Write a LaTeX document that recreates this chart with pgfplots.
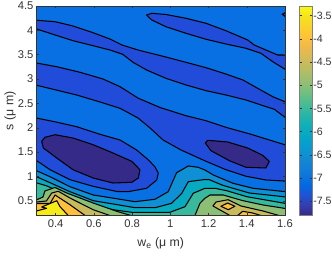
\documentclass[border=0pt]{standalone}
\usepackage{pgfplots}
\usepackage{fontspec}
\setmainfont{Liberation Sans}
\pgfplotsset{compat=1.18}
\definecolor{axgray}{gray}{0.2}
\definecolor{c0}{rgb}{0.2081,0.1663,0.5292}
\definecolor{c1}{rgb}{0.13,0.30,0.85}
\definecolor{c2}{rgb}{0.03,0.44,0.89}
\definecolor{c3}{rgb}{0.06,0.565,0.83}
\definecolor{c4}{rgb}{0.028,0.666,0.757}
\definecolor{c5}{rgb}{0.22,0.725,0.617}
\definecolor{c6}{rgb}{0.55,0.749,0.458}
\definecolor{c7}{rgb}{0.79,0.735,0.36}
\definecolor{c8}{rgb}{0.995,0.748,0.237}
\definecolor{c9}{rgb}{0.96,0.925,0.09}
\pgfplotsset{
  colormap={parulamap}{
    rgb=(0.2081,0.1663,0.5292) rgb=(0.2081,0.2386,0.6771) rgb=(0.1253,0.3242,0.8303)
    rgb=(0.0060,0.4086,0.8828) rgb=(0.0498,0.4586,0.8641) rgb=(0.0779,0.5040,0.8384)
    rgb=(0.0641,0.5570,0.8240) rgb=(0.0265,0.6137,0.8135) rgb=(0.0228,0.6535,0.7768)
    rgb=(0.0590,0.6838,0.7254) rgb=(0.1453,0.7098,0.6646) rgb=(0.2586,0.7317,0.5954)
    rgb=(0.3953,0.7459,0.5244) rgb=(0.5300,0.7491,0.4661) rgb=(0.6473,0.7456,0.4188)
    rgb=(0.7525,0.7384,0.3768) rgb=(0.8507,0.7299,0.3360) rgb=(0.9450,0.7261,0.2886)
    rgb=(0.9990,0.7653,0.2164) rgb=(0.9789,0.8271,0.1633) rgb=(0.9589,0.8949,0.1132)
    rgb=(0.9763,0.9831,0.0538)
  }
}
\begin{document}
\begin{tikzpicture}[x=1pt,y=1pt]
\useasboundingbox (0,0) rectangle (332,256);
\begin{axis}[
  at={(36.5pt,40.5pt)}, anchor=south west,
  scale only axis, width=248.5pt, height=209.5pt,
  xmin=0.3, xmax=1.6, ymin=0.2, ymax=4.5,
  xtick={0.4,0.6,...,1.61}, ytick={0.5,1,...,4.5},
  axis on top, clip=true,
  tick align=inside, major tick length=2.5pt,
  tick style={axgray,line width=0.5pt},
  axis line style={axgray,line width=0.6pt},
  axis background/.style={fill=c2},
  tick label style={font=\fontsize{11.2}{13}\selectfont,text=axgray},
  label style={font=\fontsize{12.3}{14}\selectfont,text=axgray},
  xticklabel style={yshift=-0.5pt},
  yticklabel style={xshift=0.5pt},
  xlabel style={yshift=-3pt},
  ylabel style={yshift=-5pt},
  /pgf/number format/assume math mode=true,
  xlabel={w\textsubscript{e} (μ m)}, ylabel={s (μ m)},
  colormap name=parulamap,
  point meta min=-7.81, point meta max=-3.29,
  colorbar,
  colorbar style={
    width=13pt, xshift=-5.5pt,
    ytick={-7.5,-7,...,-3.4},
    tick align=inside, major tick length=2.5pt,
    axis line style={gray,line width=0.6pt},
    tick style={axgray,line width=0.5pt},
    /pgf/number format/assume math mode=true,
    /pgf/number format/fixed,
    yticklabel style={font=\fontsize{10.6}{12}\selectfont,text=axgray,inner xsep=1pt},
  },
  cont/.style={draw=black,line width=1.05pt,line join=round},
]
% band B (level -7.5)
\addplot[cont,fill=c1] coordinates {(.876,4.315)(.903,4.350)(.977,4.326)(1.082,4.248)(1.187,4.145)(1.291,3.993)(1.405,3.802)(1.439,3.700)(1.500,3.597)(1.562,3.494)(1.62,3.494)(1.62,3.201)(1.6,3.201)(1.536,3.357)(1.474,3.529)(1.396,3.632)(1.291,3.720)(1.187,3.817)(1.082,3.940)(.977,4.075)(.903,4.213)} --cycle;
% band A (level -7.5)
\addplot[cont,fill=c1] coordinates {(.28,4.213)(.397,4.178)(.491,4.090)(.596,3.952)(.684,3.823)(.747,3.700)(.831,3.597)(.977,3.453)(1.082,3.344)(1.187,3.234)(1.291,3.104)(1.380,2.981)(1.448,2.831)(1.536,2.638)(1.62,2.503)(1.62,2.216)(1.6,2.216)(1.544,2.380)(1.474,2.468)(1.396,2.571)(1.291,2.673)(1.187,2.762)(1.082,2.879)(.977,3.016)(.876,3.186)(.805,3.344)(.751,3.509)(.684,3.597)(.596,3.685)(.491,3.788)(.397,3.905)(.28,4.055)} --cycle;
% band C (level -7.5)
\addplot[cont,fill=c1] coordinates {(.28,3.344)(.406,3.254)(.528,3.139)(.648,3.002)(.737,2.844)(.833,2.606)(.946,2.417)(1.082,2.248)(1.187,2.146)(1.291,2.010)(1.417,1.873)(1.62,1.627)(1.62,.902)(1.5,.929)(1.396,1.005)(1.291,1.140)(1.187,1.312)(1.056,1.544)(.962,1.750)(.894,1.996)(.831,2.201)(.737,2.400)(.632,2.530)(.510,2.673)(.28,2.893)} --cycle;
% region D (level -7.5)
\addplot[cont,fill=c1] coordinates {(.28,2.216)(.402,2.119)(.510,2.023)(.632,1.867)(.737,1.750)(.824,1.544)(.886,1.339)(.920,1.196)(.937,1.072)(.929,.929)(.876,.758)(.779,.689)(.720,.693)(.596,.799)(.475,.935)(.371,1.140)(.28,1.380)} --cycle;
% ellipses (below -7.5)
\addplot[cont,fill=c0] coordinates {(.327,1.723)(.344,1.805)(.397,1.858)(.491,1.791)(.596,1.653)(.700,1.483)(.798,1.312)(.841,1.140)(.833,.970)(.798,.881)(.700,.867)(.596,.970)(.491,1.140)(.406,1.380)(.336,1.585)} --cycle;
\addplot[cont,fill=c0] coordinates {(1.183,1.688)(1.196,1.743)(1.300,1.709)(1.405,1.585)(1.483,1.436)(1.518,1.312)(1.5,1.175)(1.396,1.189)(1.309,1.325)(1.213,1.530)} --cycle;
% level -6.5
\addplot[cont,fill=c3] coordinates {(.28,1.154)(.371,.996)(.475,.791)(.597,.621)(.737,.533)(.815,.483)(.920,.533)(.989,.689)(1.016,.929)(1.033,1.078)(1.094,1.216)(1.146,1.189)(1.181,1.134)(1.225,1.031)(1.328,.861)(1.433,.758)(1.62,.682)(1.62,.15)(.28,.15)} --cycle;
% level -6
\addplot[cont,fill=c4] coordinates {(.28,1.031)(.371,.873)(.475,.689)(.597,.504)(.711,.430)(.815,.360)(.920,.360)(1.007,.450)(1.060,.656)(1.094,.894)(1.181,.939)(1.204,.935)(1.274,.820)(1.413,.662)(1.62,.574)(1.62,.15)(.28,.15)} --cycle;
% level -5.5
\addplot[cont,fill=c5] coordinates {(.28,.894)(.355,.806)(.475,.586)(.597,.395)(.711,.313)(.798,.266)(.998,.266)(1.077,.381)(1.120,.656)(1.181,.758)(1.234,.758)(1.295,.709)(1.400,.586)(1.62,.436)(1.62,.15)(.28,.15)} --cycle;
% level -5
\addplot[cont,fill=c6] coordinates {(.28,.487)(.334,.580)(.344,.703)(.397,.775)(.458,.662)(.596,.457)(.720,.286)(.794,.2)(.794,.15)(.28,.15)} --cycle;
\addplot[cont,fill=c6] coordinates {(1.129,.15)(1.129,.2)(1.155,.450)(1.181,.553)(1.208,.621)(1.276,.621)(1.380,.504)(1.485,.416)(1.62,.333)(1.62,.15)} --cycle;
% level -4.5
\addplot[cont,fill=c7] coordinates {(.28,.467)(.352,.498)(.380,.662)(.414,.697)(.475,.559)(.596,.319)(.684,.2)(.684,.15)(.28,.15)} --cycle;
\addplot[cont,fill=c7] coordinates {(1.312,.15)(1.312,.2)(1.270,.292)(1.223,.395)(1.239,.477)(1.302,.524)(1.370,.395)(1.485,.292)(1.569,.2)(1.569,.15)} --cycle;
% level -4
\addplot[cont,fill=c8] coordinates {(.28,.446)(.371,.446)(.397,.621)(.475,.422)(.554,.2)(.554,.15)(.28,.15)} --cycle;
\addplot[cont,fill=c8] coordinates {(1.265,.389)(1.300,.457)(1.338,.389)(1.303,.319)} --cycle;
\addplot[cont,fill=c8] coordinates {(1.352,.15)(1.352,.2)(1.379,.286)(1.431,.251)(1.474,.2)(1.474,.15)} --cycle;
% level -3.5
\addplot[cont,fill=c9] coordinates {(.28,.272)(.353,.348)(.327,.374)(.406,.504)(.423,.381)(.466,.2)(.466,.15)(.28,.15)} --cycle;
% small spot at the right edge
\addplot[cont,fill=c1] coordinates {(1.585,4.33)(1.6,4.36)(1.62,4.36)(1.62,4.29)(1.6,4.29)} --cycle;
\end{axis}
\end{tikzpicture}
\end{document}
